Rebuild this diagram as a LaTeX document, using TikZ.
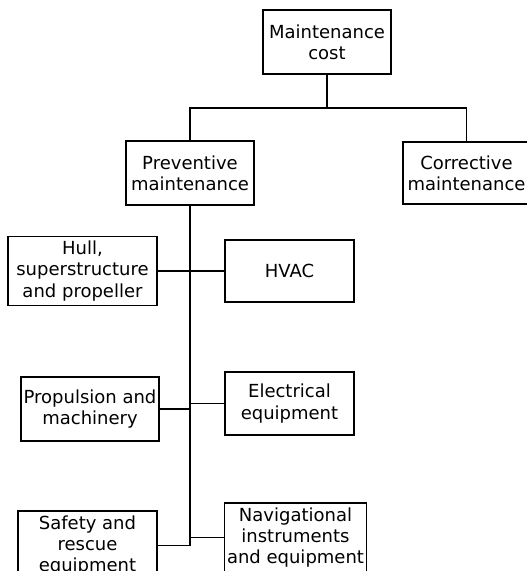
\documentclass[tikz,border=0pt]{standalone}
\usepackage{fontspec}
\setmainfont{DejaVu Sans}
\usepackage{tikz}
\usetikzlibrary{positioning}

\begin{document}
\begin{tikzpicture}[
        x=0.75pt, y=-0.75pt,
        every node/.style={
            rectangle,
            draw=black,
            line width=1.2pt,
            text=black,
            align=center,
            inner sep=2pt,
            font=\fontsize{13.5}{16}\selectfont
        },
        link/.style={
            line width=1pt,
            color=black
        }
    ]
        \useasboundingbox (0,0) rectangle (526,571);

        \node (cost) [minimum width=96pt, minimum height=48pt] at (327,42) {Maintenance\\cost};
        \node (prev) [minimum width=96pt, minimum height=48pt] at (190,173) {Preventive\\maintenance};
        \node (corr) [minimum width=95pt, minimum height=46.5pt] at (466.5,173) {Corrective\\maintenance};

        \node (hull) [minimum width=112pt, minimum height=52pt] at (82.5,271) {Hull,\\superstructure\\and propeller};
        \node (hvac) [minimum width=97pt, minimum height=46.5pt] at (289.5,271) {HVAC};
        \node (prop) [minimum width=100.5pt, minimum height=48pt] at (90,409) {Propulsion and\\machinery};
        \node (elec) [minimum width=97pt, minimum height=47pt] at (289.5,403.5) {Electrical\\equipment};
        \node (safe) [minimum width=104pt, minimum height=52pt] at (87.5,545.5) {Safety and\\rescue\\equipment};
        \node (nav) [minimum width=106pt, minimum height=52pt] at (295.5,537.5) {Navigational\\instruments\\and equipment};

        % Top split
        \coordinate (split) at (327,108);
        \draw[link] (cost) -- (split);
        \draw[link] (prev.north) |- (split) -| (corr.north);

        % Spine of the preventive branch
        \coordinate (spinebot) at (prev.south |- safe.east);
        \draw[link] (prev.south) -- (spinebot);

        \draw[link] (hull.east) -- (hvac.west);
        \draw[link] (prop.east) -- (prop.east -| prev.south);
        \draw[link] (elec.west) -- (elec.west -| prev.south);
        \draw[link] (safe.east) -- (spinebot);
        \draw[link] (nav.west) -- (nav.west -| prev.south);
    \end{tikzpicture}
\end{document}
